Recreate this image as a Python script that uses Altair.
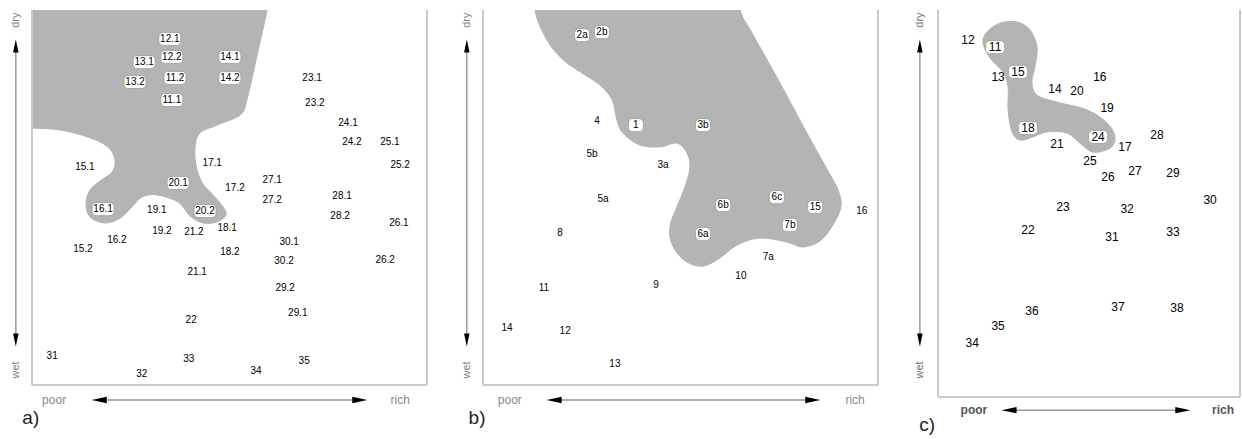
import altair as alt
import pandas as pd

# ---------------- panel a) ----------------
a_labels = ["12.1", "12.2", "13.1", "14.1", "11.2", "13.2", "14.2", "11.1", "23.1", "23.2",
            "24.1", "24.2", "25.1", "25.2", "15.1", "17.1", "20.1", "17.2", "27.1", "27.2",
            "28.1", "16.1", "19.1", "20.2", "28.2", "26.1", "19.2", "21.2", "18.1", "16.2",
            "15.2", "18.2", "30.1", "30.2", "26.2", "21.1", "29.2", "29.1", "22", "31",
            "33", "35", "32", "34"]
a_x = [34.9, 35.4, 28.4, 50.1, 36.2, 26.1, 50.1, 35.4, 70.9, 71.6,
       80.0, 81.0, 90.6, 93.2, 13.4, 45.6, 37.0, 51.4, 60.8, 60.8,
       78.5, 18.0, 31.6, 43.8, 78.0, 92.9, 32.9, 41.0, 49.4, 21.5,
       12.9, 50.1, 65.1, 63.8, 89.4, 41.8, 64.1, 67.3, 40.3, 5.1,
       39.7, 68.9, 27.8, 56.7]
a_y = [92.3, 87.5, 86.1, 87.5, 81.9, 80.8, 81.9, 76.0, 81.9, 75.2,
       69.9, 64.8, 64.8, 58.7, 58.1, 59.2, 53.9, 52.5, 54.7, 49.3,
       50.4, 46.9, 46.7, 46.4, 45.1, 43.2, 41.1, 40.8, 41.9, 38.7,
       36.3, 35.5, 38.1, 33.1, 33.3, 30.1, 25.9, 19.2, 17.3, 7.7,
       6.9, 6.4, 2.9, 3.7]
a_boxed = ["12.1", "12.2", "13.1", "13.2", "11.1", "11.2", "14.1", "14.2", "20.1", "16.1", "20.2"]
a_blob_x = [59.5, 57.0, 54.4, 52.7, 46.8, 42.5, 41.3, 41.5, 43.0, 45.8, 48.4, 49.1, 46.8, 43.3,
            40.0, 37.0, 31.6, 27.8, 25.3, 22.3, 18.5, 14.7, 13.7, 14.7, 17.2, 20.3, 21.0, 19.2,
            14.2, 7.1, 0.3, -6.0, -8.0, 61.0]
a_blob_y = [100.0, 88.0, 76.0, 72.0, 69.3, 67.2, 63.5, 58.7, 54.1, 50.7, 47.5, 45.3, 43.5, 43.2,
            45.1, 48.8, 50.7, 50.1, 47.5, 44.5, 43.2, 44.8, 48.5, 52.0, 54.4, 56.8, 60.0, 63.5,
            66.1, 68.0, 68.5, 68.5, 110.0, 110.0]

# ---------------- panel b) ----------------
b_labels = ["2a", "2b", "4", "1", "3b", "5b", "3a", "5a", "6b", "6c", "15", "16", "7b", "6a",
            "7a", "10", "8", "11", "9", "14", "12", "13"]
b_x = [25.1, 30.1, 28.9, 38.7, 55.7, 27.6, 45.6, 30.4, 60.8, 74.4, 84.1, 95.9, 77.7, 55.7,
       72.2, 65.3, 19.5, 15.4, 43.8, 6.1, 20.8, 33.4]
b_y = [93.3, 94.1, 70.4, 69.3, 69.3, 61.6, 58.7, 49.6, 48.0, 50.1, 47.5, 46.4, 42.7, 40.3,
       34.1, 29.1, 40.5, 25.9, 26.7, 15.2, 14.4, 5.6]
b_boxed = ["2a", "2b", "1", "3b", "6b", "6c", "15", "6a", "7b"]
b_blob_x = [13.2, 16.2, 20.3, 24.6, 29.6, 32.7, 33.9, 35.4, 39.7, 44.8, 49.1, 51.6, 52.4, 51.1,
            49.1, 47.6, 47.3, 48.6, 51.6, 55.7, 60.0, 64.3, 70.1, 77.0, 81.0, 85.3, 88.6, 90.6,
            89.9, 86.8, 82.0, 75.2, 68.1, 65.1, 64.0, 14.0]
b_blob_y = [100.0, 92.0, 86.7, 83.5, 80.0, 76.0, 70.7, 67.2, 64.0, 63.5, 64.5, 61.9, 58.1, 52.8,
            47.5, 43.5, 39.7, 36.0, 32.8, 31.7, 33.9, 37.3, 39.2, 38.1, 36.8, 38.4, 42.7, 47.5,
            52.0, 58.1, 67.2, 80.5, 93.9, 100.0, 110.0, 110.0]

# ---------------- panel c) ----------------
c_labels = ["12", "11", "15", "13", "16", "14", "20", "19", "18", "24", "28", "21", "17", "25",
            "27", "26", "29", "30", "23", "32", "22", "31", "33", "36", "37", "38", "35", "34"]
c_x = [9.9, 18.9, 26.5, 19.9, 53.6, 38.7, 46.0, 56.0, 29.8, 53.0, 72.5, 39.4, 61.9, 50.3,
       65.2, 56.3, 77.8, 90.1, 41.4, 62.6, 29.8, 57.6, 77.8, 31.1, 59.6, 79.1, 19.9, 11.3]
c_y = [92.2, 90.4, 84.0, 82.7, 82.7, 79.6, 79.1, 74.7, 69.5, 67.2, 67.7, 65.4, 64.6, 61.0,
       58.4, 56.8, 57.9, 50.9, 49.1, 48.6, 43.2, 41.3, 42.6, 22.2, 23.3, 23.0, 18.3, 14.0]
c_boxed = ["11", "15", "18", "24"]
c_blob_x = [16.2, 20.5, 26.2, 30.5, 32.8, 32.1, 31.1, 32.8, 39.4, 49.3, 56.0, 58.6, 57.0, 51.3,
            47.0, 42.7, 36.1, 31.5, 27.2, 24.5, 23.2, 23.2, 21.5, 17.2, 14.9]
c_blob_y = [94.3, 96.6, 96.9, 94.8, 90.4, 85.3, 81.4, 78.0, 76.2, 74.2, 70.8, 67.2, 64.3, 63.3,
            65.6, 68.2, 68.5, 67.2, 66.4, 68.5, 74.2, 80.1, 84.0, 87.6, 91.5]

GRAY = "#b4b4b4"
FRAME = "#c9c9c9"
SHAFT = "#9a9a9a"
FONT = "Liberation Sans"

UP = "M0,-1L0.42,1L-0.42,1Z"
DOWN = "M0,1L0.42,-1L-0.42,-1Z"
LEFT = "M-1,0L1,-0.42L1,0.42Z"
RIGHT = "M1,0L-1,-0.42L-1,0.42Z"


def panel(labels, xs, ys, boxed, blob_x, blob_y, xrange, yrange, fs, box_w, ann, axis_style):
    X = alt.Scale(domain=[0, 100], range=xrange, nice=False, zero=False)
    Y = alt.Scale(domain=[0, 100], range=yrange, nice=False, zero=False)

    def xy(xf="x", yf="y"):
        return dict(x=alt.X(f"{xf}:Q", scale=X, axis=None),
                    y=alt.Y(f"{yf}:Q", scale=Y, axis=None))

    pts = pd.DataFrame({"label": labels, "x": xs, "y": ys,
                        "boxed": [l in boxed for l in labels]})
    blob = pd.DataFrame({"i": list(range(len(blob_x))), "x": blob_x, "y": blob_y})

    blob_layer = alt.Chart(blob).mark_line(
        interpolate="cardinal-closed", fill=GRAY, stroke=GRAY, strokeWidth=1, clip=True
    ).encode(order=alt.Order("i:Q"), **xy())

    frame = pd.DataFrame({"x": [0, 100, 0], "x2": [0, 100, 100],
                          "y": [0, 0, 0], "y2": [100, 100, 0]})
    frame_layer = alt.Chart(frame).mark_rule(color=FRAME, strokeWidth=2).encode(
        x2="x2:Q", y2="y2:Q", **xy())

    box_layer = alt.Chart(pts).transform_filter("datum.boxed").mark_rect(
        width=box_w, height=13, cornerRadius=4, fill="white", stroke="#999999",
        strokeWidth=0.8
    ).encode(**xy())

    text_layer = alt.Chart(pts).mark_text(
        font=FONT, fontSize=fs, color="#000000", baseline="middle", align="center"
    ).encode(text="label:N", **xy())

    vx, ylo, yhi, ydry, ywet, hy, xpoor, xlo, xhi, xrich, lx, ly = ann
    shafts = pd.DataFrame({"x": [vx, xlo], "x2": [vx, xhi], "y": [ylo, hy], "y2": [yhi, hy]})
    shaft_layer = alt.Chart(shafts).mark_rule(color=SHAFT, strokeWidth=1.5).encode(
        x2="x2:Q", y2="y2:Q", **xy())

    heads = pd.DataFrame({"x": [vx, vx, xlo, xhi], "y": [yhi, ylo, hy, hy],
                          "shape": [UP, DOWN, LEFT, RIGHT],
                          "size": [170, 170, 230, 230]})
    head_layer = alt.Chart(heads).mark_point(filled=True, color="black", opacity=1).encode(
        shape=alt.Shape("shape:N", scale=None),
        size=alt.Size("size:Q", scale=None), **xy())

    vt = pd.DataFrame({"x": [vx, vx], "y": [ydry, ywet], "t": ["dry", "wet"]})
    vt_layer = alt.Chart(vt).mark_text(
        font=FONT, fontSize=11, angle=270, color=axis_style["vcolor"],
        baseline="middle", align="center"
    ).encode(text="t:N", **xy())

    pr = pd.DataFrame({"x": [xpoor, xrich], "y": [hy, hy], "t": ["poor", "rich"]})
    pr_layer = alt.Chart(pr).mark_text(
        font=FONT, fontSize=axis_style["hsize"], color=axis_style["hcolor"],
        fontWeight=axis_style["hweight"], baseline="middle", align="center"
    ).encode(text="t:N", **xy())

    pl = pd.DataFrame({"x": [lx], "y": [ly], "t": [axis_style["tag"]]})
    pl_layer = alt.Chart(pl).mark_text(
        font=FONT, fontSize=19, color="#222222", baseline="middle", align="center"
    ).encode(text="t:N", **xy())

    return alt.layer(blob_layer, frame_layer, box_layer, text_layer, shaft_layer,
                     head_layer, vt_layer, pr_layer, pl_layer)


pa = panel(a_labels, a_x, a_y, a_boxed, a_blob_x, a_blob_y, [0, 395], [375, 0], 10, 22,
           (-4.1, 12.0, 90.4, 97.3, 4.0, -4.0, 5.6, 17.0, 83.0, 93.2, -0.3, -8.8),
           {"vcolor": "#808080", "hcolor": "#8a8a8a", "hweight": "normal", "hsize": 12, "tag": "a)"})
pb = panel(b_labels, b_x, b_y, b_boxed, b_blob_x, b_blob_y, [451, 846], [375, 0], 10, 15,
           (-4.1, 12.0, 90.4, 97.3, 4.0, -4.0, 6.8, 18.0, 83.5, 94.2, -1.5, -8.8),
           {"vcolor": "#808080", "hcolor": "#8a8a8a", "hweight": "normal", "hsize": 12, "tag": "b)"})
pc = panel(c_labels, c_x, c_y, c_boxed, c_blob_x, c_blob_y, [906, 1208], [387, 0], 12, 19,
           (-6.0, 14.7, 90.7, 97.4, 7.0, -3.4, 11.9, 23.5, 81.1, 94.4, -3.6, -7.2),
           {"vcolor": "#707070", "hcolor": "#555555", "hweight": "bold", "hsize": 12, "tag": "c)"})

chart = alt.layer(pa, pb, pc).resolve_scale(
    x="independent", y="independent"
).properties(
    width=1210, height=429,
    padding={"left": 32, "top": 10, "right": 0, "bottom": 0},
    autosize=alt.AutoSizeParams(type="none"),
    background="white",
).configure_view(stroke=None)

chart.save("out.html", embed_options={"renderer": "svg", "actions": False})
